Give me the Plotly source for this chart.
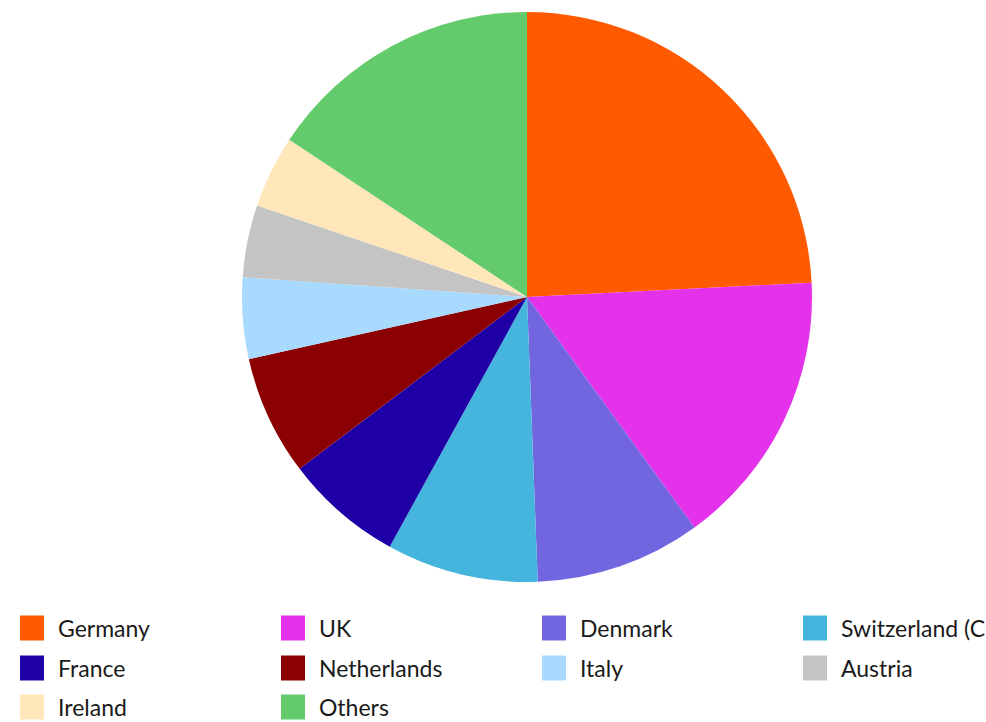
import plotly.graph_objects as go

labels = ["Germany", "UK", "Denmark", "Switzerland (CH)", "France", "Netherlands",
          "Italy", "Austria", "Ireland", "Others"]
values = [24.2, 15.8, 9.4, 8.6, 6.7, 6.8, 4.6, 4.1, 4.1, 15.7]
colors = ["#FF5A00", "#E432EA", "#7266E0", "#46B5DE", "#1E00A6", "#8B0000",
          "#A8DAFF", "#C4C4C4", "#FFE7BA", "#63CB6B"]

W, H = 986, 722
cx, cy, r = 527, 297, 285

fig = go.Figure(go.Pie(
    labels=labels, values=values, sort=False, direction="clockwise", rotation=0,
    marker=dict(colors=colors, line=dict(width=0)),
    textinfo="none", hoverinfo="label+percent", showlegend=False,
    domain=dict(x=[(cx - r) / W, (cx + r) / W], y=[1 - (cy + r) / H, 1 - (cy - r) / H]),
))

# Legend drawn manually (4 columns)
col_x = [20, 281, 542, 803]
row_y = [628, 668, 707]
shapes, annos = [], []
for i, (lab, col) in enumerate(zip(labels, colors)):
    c, rr = i % 4, i // 4
    x0, yc = col_x[c], row_y[rr]
    shapes.append(dict(type="rect", xref="paper", yref="paper",
                       x0=x0 / W, x1=(x0 + 24) / W,
                       y0=1 - (yc + 12.5) / H, y1=1 - (yc - 12.5) / H,
                       fillcolor=col, line=dict(width=0)))
    annos.append(dict(text=lab, xref="paper", yref="paper", x=(x0 + 36) / W,
                      y=1 - yc / H, xanchor="left", yanchor="middle", showarrow=False,
                      font=dict(family="Lato", size=23, color="#1a1a1a")))

fig.update_layout(width=W, height=H, margin=dict(l=0, r=0, t=0, b=0),
                  paper_bgcolor="white", plot_bgcolor="white",
                  shapes=shapes, annotations=annos)
fig.write_html("out.html")
